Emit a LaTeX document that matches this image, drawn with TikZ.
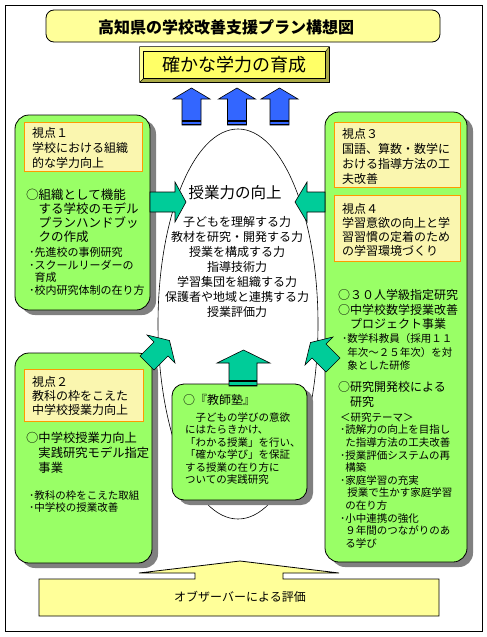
\documentclass[tikz,border=0pt]{standalone}
\usepackage{fontspec}
\setmainfont{Noto Sans CJK JP}
\usetikzlibrary{shapes.geometric,shadows,calc}
\definecolor{leafgreen}{RGB}{153,255,102}
\definecolor{arrowteal}{RGB}{0,204,153}
\definecolor{arrowblue}{RGB}{51,102,255}
\definecolor{paleyellow}{RGB}{255,255,153}
\definecolor{tagyellow}{RGB}{250,246,175}
\definecolor{tagorange}{RGB}{255,153,0}
\definecolor{goalyellow}{RGB}{255,255,102}
\definecolor{goalolive}{RGB}{170,170,70}
\definecolor{shadowgray}{RGB}{128,128,128}

\begin{document}
\begin{tikzpicture}[x=1pt, y=-1pt,
    panel/.style={draw, fill=leafgreen, rounded corners=14pt, line width=0.8pt, inner sep=0pt,
        drop shadow={shadow xshift=6pt, shadow yshift=-5pt, fill=shadowgray, opacity=1}},
    tag/.style={draw=tagorange, fill=tagyellow, line width=0.9pt, inner sep=0pt},
    txt/.style={anchor=north west, inner sep=0pt, align=left},
    head/.style={txt, font=\fontsize{12}{15}\selectfont},
    lead/.style={txt, font=\fontsize{12.5}{14}\selectfont},
    note/.style={txt, font=\fontsize{10.5}{12.6}\selectfont},
    tealarrow/.style={draw, fill=arrowteal, line width=0.6pt},
    bluearrow/.style={draw, fill=arrowblue, line width=0.6pt}
]
\useasboundingbox (0,0) rectangle (487,637);
\draw[line width=1pt] (5,5) rectangle (482,631);

% title and goal
\node[draw, fill=paleyellow, rounded corners=8pt, minimum width=394, minimum height=32, line width=0.8pt] (titlebox) at (243,26) {};
\node[font=\bfseries\fontsize{16}{18}\selectfont] (title) at (226,27) {高知県の学校改善支援プラン構想図};

\node[draw, fill=goalolive, minimum width=189, minimum height=35, line width=0.8pt] (goal) at (234.5,64.5) {};
\filldraw[fill=paleyellow, line width=0.4pt] (goal.north west) -- (goal.north east) -- ++(-4,5)
    -- ($(goal.north west)+(4,5)$) -- ($(goal.south west)+(4,-4)$) -- (goal.south west) -- cycle;
\filldraw[fill=goalyellow, line width=0.4pt] ($(goal.north west)+(4,5)$) rectangle ($(goal.south east)+(-4,-4)$);
\node[font=\fontsize{18}{20}\selectfont] (goaltext) at (goal) {確かな学力の育成};

\foreach \x in {191.5,237,279.5} {
    \draw[bluearrow] (\x-18.5,99) -- (\x,88) -- (\x+18.5,99) -- (\x+9.5,99) -- (\x+9.5,125) -- (\x-9.5,125) -- (\x-9.5,99) -- cycle;
    \draw[line width=1.3pt] (\x-9.5,121) -- (\x+9.5,121);
    \draw[line width=1.3pt] (\x-9.5,124.5) -- (\x+9.5,124.5);
}

% central ellipse
\node[ellipse, draw, fill=white, minimum width=160, minimum height=390, inner sep=0pt, line width=0.6pt] (core) at (238,324) {};
\node[font=\fontsize{15.5}{17}\selectfont] (coretitle) at (235,193) {授業力の向上};
\node[align=center, inner sep=0pt, font=\fontsize{12}{15}\selectfont] (corelist) at (237,267)
    {子どもを理解する力\\教材を研究・開発する力\\授業を構成する力\\指導技術力\\学習集団を組織する力\\保護者や地域と連携する力\\授業評価力};

% panels
\node[panel, minimum width=135, minimum height=195] (view1) at (82.5,212.5) {};
\node[panel, minimum width=137, minimum height=210] (view2) at (83.5,458) {};
\node[panel, minimum width=142, minimum height=450] (viewR) at (396,337) {};
\node[panel, rounded corners=12pt, minimum width=135, minimum height=116] (juku) at (239.5,442) {};

\node[tag, minimum width=118, minimum height=49] (tag1) at (83,146.5) {};
\node[tag, minimum width=119, minimum height=52] (tag2) at (83.5,395) {};
\node[tag, minimum width=126, minimum height=65] (tag3) at (397,154.5) {};
\node[tag, minimum width=126, minimum height=66] (tag4) at (397,228) {};

% teal arrows
\draw[tealarrow] (150,192) -- (175,192) -- (175,182) -- (186,202) -- (175,222) -- (175,212) -- (150,212) -- cycle;
\draw[tealarrow] (325,192) -- (307,192) -- (307,182) -- (295,202) -- (307,222) -- (307,212) -- (325,212) -- cycle;
\draw[tealarrow] (229,386) -- (229,363) -- (217,363) -- (243.5,350) -- (270,363) -- (257,363) -- (257,386) -- cycle;
\draw[line width=1.2pt] (229,381) -- (257,381);
\draw[line width=1.4pt] (229,385.5) -- (257,385.5);
\draw[tealarrow] (169.5,340.5) -- (175,363) -- (168,356) -- (154,370) -- (140,356) -- (154,342) -- (147,335) -- cycle;
\draw[tealarrow] (310.5,342.5) -- (305,365) -- (312,358) -- (326,372) -- (340,358) -- (326,344) -- (333,337) -- cycle;

% texts of view 1
\node[head] (head1) at (32,127.6) {視点１\\学校における組織\\的な学力向上};
\node[lead] (lead1) at (26,189.2) {○組織として機能\\　する学校のモデル\\　プランハンドブッ\\　クの作成};
\node[note, font=\fontsize{11}{12.7}\selectfont] (note1) at (29,247)
    {･先進校の事例研究\\･スクールリーダーの\\\hphantom{･}育成\\･校内研究体制の在り方};

% texts of view 2
\node[head, font=\fontsize{12}{14.2}\selectfont] (head2) at (32,376.3) {視点２\\教科の枠をこえた\\中学校授業力向上};
\node[lead, font=\fontsize{12.3}{15}\selectfont] (lead2) at (26,432.2) {○中学校授業力向上\\　実践研究モデル指定\\　事業};
\node[note, font=\fontsize{10.5}{11.8}\selectfont] (note2) at (29,490.3) {･教科の枠をこえた取組\\･中学校の授業改善};

% texts of views 3 and 4
\node[head] (head3) at (342,127.9) {視点３\\国語、算数・数学に\\おける指導方法の工\\夫改善};
\node[head, font=\fontsize{12}{14}\selectfont] (head4) at (342,202.9) {視点４\\学習意欲の向上と学\\習習慣の定着のため\\の学習環境づくり};
\node[head, font=\fontsize{12}{14.2}\selectfont] (leadR1) at (338,289.6) {○３０人学級指定研究\\○中学校数学授業改善\\　プロジェクト事業};
\node[note, font=\fontsize{10.5}{13.4}\selectfont] (noteR1) at (342,333.6)
    {･数学科教員（採用１１\\\hphantom{･}年次～２５年次）を対\\\hphantom{･}象とした研修};
\node[head] (leadR2) at (338,381.3) {○研究開発校による\\　研究};
\node[note, font=\fontsize{10.5}{12.66}\selectfont] (noteR2) at (340,412)
    {＜研究テーマ＞\\･読解力の向上を目指し\\\hphantom{･}た指導方法の工夫改善\\･授業評価システムの再\\\hphantom{･}構築\\･家庭学習の充実\\\hphantom{･}\hspace{2pt}授業で生かす家庭学習\\\hphantom{･}の在り方\\･小中連携の強化\\\hphantom{･}９年間のつながりのあ\\\hphantom{･}る学び};

% texts of juku
\node[head] (jukuhead) at (183,394.6) {○『教師塾』};
\node[note, font=\fontsize{10.5}{12.5}\selectfont] (jukubody) at (185,412)
    {　子どもの学びの意欲\\にはたらきかけ、\\「わかる授業」を行い、\\「確かな学び」を保証\\する授業の在り方に\\ついての実践研究};

% observer
\filldraw[fill=paleyellow, line width=0.8pt] (39,579) -- (195,579) -- (195,573) -- (139,573) -- (240,561) -- (339,573)
    -- (283,573) -- (283,579) -- (439,579) -- (439,616) -- (39,616) -- cycle;
\node[font=\fontsize{12}{14}\selectfont] (observer) at (240,597) {オブザーバーによる評価};
\end{tikzpicture}
\end{document}
